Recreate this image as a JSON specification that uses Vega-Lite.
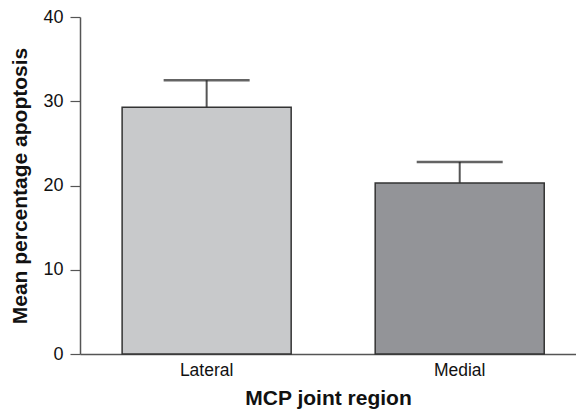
{
  "$schema": "https://vega.github.io/schema/vega-lite/v6.json",
  "width": 496,
  "height": 337,
  "autosize": "none",
  "padding": {"left": 80, "top": 17, "right": 0, "bottom": 57},
  "background": "white",
  "config": {
    "view": {"stroke": null},
    "font": "Liberation Sans",
    "axis": {"grid": false, "labelFont": "Liberation Sans", "titleFont": "Liberation Sans", "labelColor": "#111", "titleColor": "#111", "domainColor": "#555", "tickColor": "#555"}
  },
  "data": {"values": [
    {"region": "Lateral", "mean": 29.3, "upper": 32.5},
    {"region": "Medial", "mean": 20.3, "upper": 22.8}
  ]},
  "encoding": {
    "x": {
      "field": "region", "type": "nominal", "sort": null,
      "scale": {"paddingInner": 0.332, "paddingOuter": 0.146, "align": 0.57},
      "axis": {"title": "MCP joint region", "labelAngle": 0, "ticks": false, "labelPadding": 7, "labelFontSize": 17.5, "titleFontSize": 21, "titleFontWeight": "bold", "titlePadding": 9, "domainWidth": 1.5}
    }
  },
  "layer": [
    {
      "mark": {"type": "rule", "color": "#555", "strokeWidth": 2},
      "encoding": {
        "y": {"field": "mean", "type": "quantitative"},
        "y2": {"field": "upper"}
      }
    },
    {
      "mark": {"type": "tick", "color": "#222", "thickness": 2.5, "size": 86},
      "encoding": {
        "y": {"field": "upper", "type": "quantitative"}
      }
    },
    {
      "mark": {"type": "bar", "stroke": "#333", "strokeWidth": 1.5},
      "encoding": {
        "y": {
          "field": "mean", "type": "quantitative",
          "scale": {"domain": [0, 40], "nice": false},
          "axis": {"title": "Mean percentage apoptosis", "values": [0, 10, 20, 30, 40], "tickSize": 10, "labelPadding": 7, "labelFontSize": 18, "titleFontSize": 21, "titleFontWeight": "bold", "titlePadding": 12, "domainWidth": 1.5, "tickWidth": 1.2}
        },
        "color": {
          "field": "region", "type": "nominal",
          "scale": {"domain": ["Lateral", "Medial"], "range": ["#c8c9cb", "#939498"]},
          "legend": null
        }
      }
    }
  ]
}
